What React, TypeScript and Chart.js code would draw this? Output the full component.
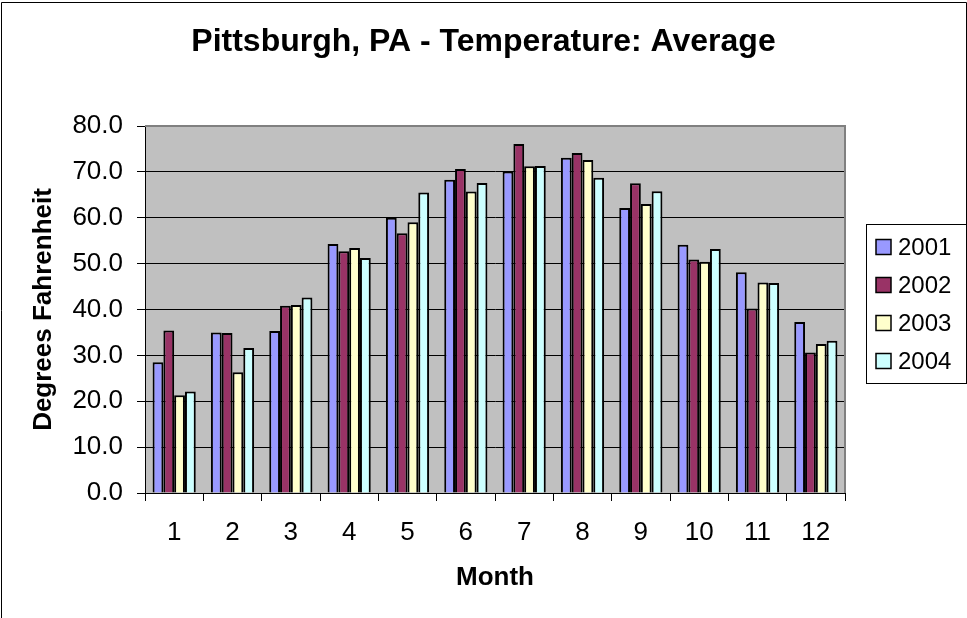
import React, { useEffect, useRef } from "react";
import { Chart, registerables } from "chart.js";

Chart.register(...registerables);

const months = ["1", "2", "3", "4", "5", "6", "7", "8", "9", "10", "11", "12"];
const years = ["2001", "2002", "2003", "2004"];
const temps2001 = [28.5, 35.0, 35.3, 54.3, 60.0, 68.3, 70.1, 73.1, 62.1, 54.1, 48.1, 37.3];
const temps2002 = [35.4, 34.9, 40.8, 52.7, 56.6, 70.6, 76.1, 74.1, 67.5, 50.9, 40.2, 30.6];
const temps2003 = [21.3, 26.3, 41.0, 53.4, 59.0, 65.7, 71.2, 72.6, 63.0, 50.4, 45.9, 32.5];
const temps2004 = [22.1, 31.6, 42.6, 51.2, 65.5, 67.6, 71.3, 68.7, 65.8, 53.2, 45.8, 33.2];
const seriesColors = ["#9999FF", "#993366", "#FFFFCC", "#CCFFFF"];
const yMin = 0;
const yMax = 80;
const yStep = 10;

const FONT = '"Liberation Sans", Arial, sans-serif';

const decorPlugin = {
  id: "decor",
  beforeDraw(chart: any) {
    const { ctx, chartArea: a, width, height } = chart;
    ctx.save();
    ctx.fillStyle = "#FFFFFF";
    ctx.fillRect(0, 0, width, height);
    ctx.fillStyle = "#C0C0C0";
    ctx.fillRect(a.left, a.top, a.right - a.left, a.bottom - a.top);
    ctx.restore();
  },
  afterDraw(chart: any) {
    const { ctx, chartArea: a, height } = chart;
    ctx.save();
    // plot area gray border (top & right)
    ctx.strokeStyle = "#808080";
    ctx.lineWidth = 2;
    ctx.beginPath();
    ctx.moveTo(a.left, a.top);
    ctx.lineTo(a.right, a.top);
    ctx.lineTo(a.right, a.bottom);
    ctx.stroke();
    // outer chart border
    ctx.strokeStyle = "#000000";
    ctx.lineWidth = 1;
    ctx.beginPath();
    ctx.moveTo(1.5, height);
    ctx.lineTo(1.5, 2.5);
    ctx.lineTo(966.5, 2.5);
    ctx.lineTo(966.5, 224);
    ctx.stroke();
    // legend
    const lx = 866.5, ly = 224.5, lw = 100, lh = 159;
    ctx.fillStyle = "#FFFFFF";
    ctx.fillRect(lx, ly, lw, lh);
    ctx.strokeRect(lx, ly, lw, lh);
    ctx.font = `24px ${FONT}`;
    ctx.textBaseline = "middle";
    ctx.textAlign = "left";
    chart.data.datasets.forEach((ds: any, i: number) => {
      const cy = 247 + i * 38;
      ctx.fillStyle = ds.backgroundColor;
      ctx.fillRect(876, cy - 7.5, 15, 15);
      ctx.lineWidth = 1.5;
      ctx.strokeStyle = "#000";
      ctx.strokeRect(876, cy - 7.5, 15, 15);
      ctx.fillStyle = "#000";
      ctx.fillText(ds.label, 898, cy + 1);
    });
    ctx.restore();
  },
};

export default function App() {
  const ref = useRef<HTMLCanvasElement>(null);
  useEffect(() => {
    if (!ref.current) return;
    const seriesData = [temps2001, temps2002, temps2003, temps2004];
    const chart = new Chart(ref.current, {
      type: "bar",
      data: {
        labels: months,
        datasets: years.map((y, i) => ({
          label: y,
          data: seriesData[i],
          backgroundColor: seriesColors[i],
          borderColor: "#000000",
          borderWidth: 2,
          borderSkipped: "bottom",
          categoryPercentage: 0.74,
          barPercentage: 1.0,
          yAxisID: "y",
        })),
      },
      options: {
        responsive: false,
        animation: false,
        layout: { padding: { left: 0, right: 0, top: 0, bottom: 0 } },
        plugins: {
          legend: { display: false },
          tooltip: { enabled: false },
          title: {
            display: true,
            text: "Pittsburgh, PA - Temperature: Average",
            color: "#000",
            font: { family: FONT, size: 32, weight: "bold", lineHeight: 1.2 },
            padding: { top: 23, bottom: 64.6 },
          },
        },
        scales: {
          x: {
            afterFit(scale: any) {
              scale.height = 125;
            },
            grid: {
              offset: true,
              drawOnChartArea: false,
              drawTicks: true,
              tickLength: 8,
              tickColor: "#000",
              color: "#000",
            },
            border: { display: true, color: "#000", width: 1 },
            ticks: {
              color: "#000",
              padding: 16,
              font: { family: FONT, size: 26 },
              maxRotation: 0,
            },
            title: {
              display: true,
              text: "Month",
              color: "#000",
              font: { family: FONT, size: 26, weight: "bold", lineHeight: 1.2 },
              padding: { top: 0, bottom: 25 },
            },
          },
          y: {
            min: yMin,
            max: yMax,
            afterFit(scale: any) {
              scale.width = 145;
            },
            grid: {
              color: (c: any) => (c.tick && c.tick.value === yMax ? "rgba(0,0,0,0)" : "#000"),
              lineWidth: 1,
              drawTicks: true,
              tickLength: 8,
              tickColor: "#000",
            },
            border: { display: true, color: "#000", width: 1 },
            ticks: {
              stepSize: yStep,
              color: "#000",
              padding: 14,
              font: { family: FONT, size: 26 },
              callback: (v: any) => Number(v).toFixed(1),
            },
            title: {
              display: true,
              text: "Degrees Fahrenheit",
              color: "#000",
              font: { family: FONT, size: 26, weight: "bold", lineHeight: 1.2 },
              padding: { top: 28, bottom: 0 },
            },
          },
          legendSpace: {
            type: "linear",
            position: "right",
            display: true,
            min: yMin,
            max: yMax,
            afterFit(scale: any) {
              scale.width = 122;
            },
            grid: { display: false, drawTicks: false },
            border: { display: false },
            ticks: { display: false },
            title: { display: false },
          },
        },
      },
      plugins: [decorPlugin],
    } as any);
    return () => chart.destroy();
  }, []);
  return (
    <div style={{ position: "absolute", left: 0, top: 0, width: 967, height: 618, background: "#fff" }}>
      <canvas ref={ref} width={967} height={618} style={{ display: "block" }} />
    </div>
  );
}
